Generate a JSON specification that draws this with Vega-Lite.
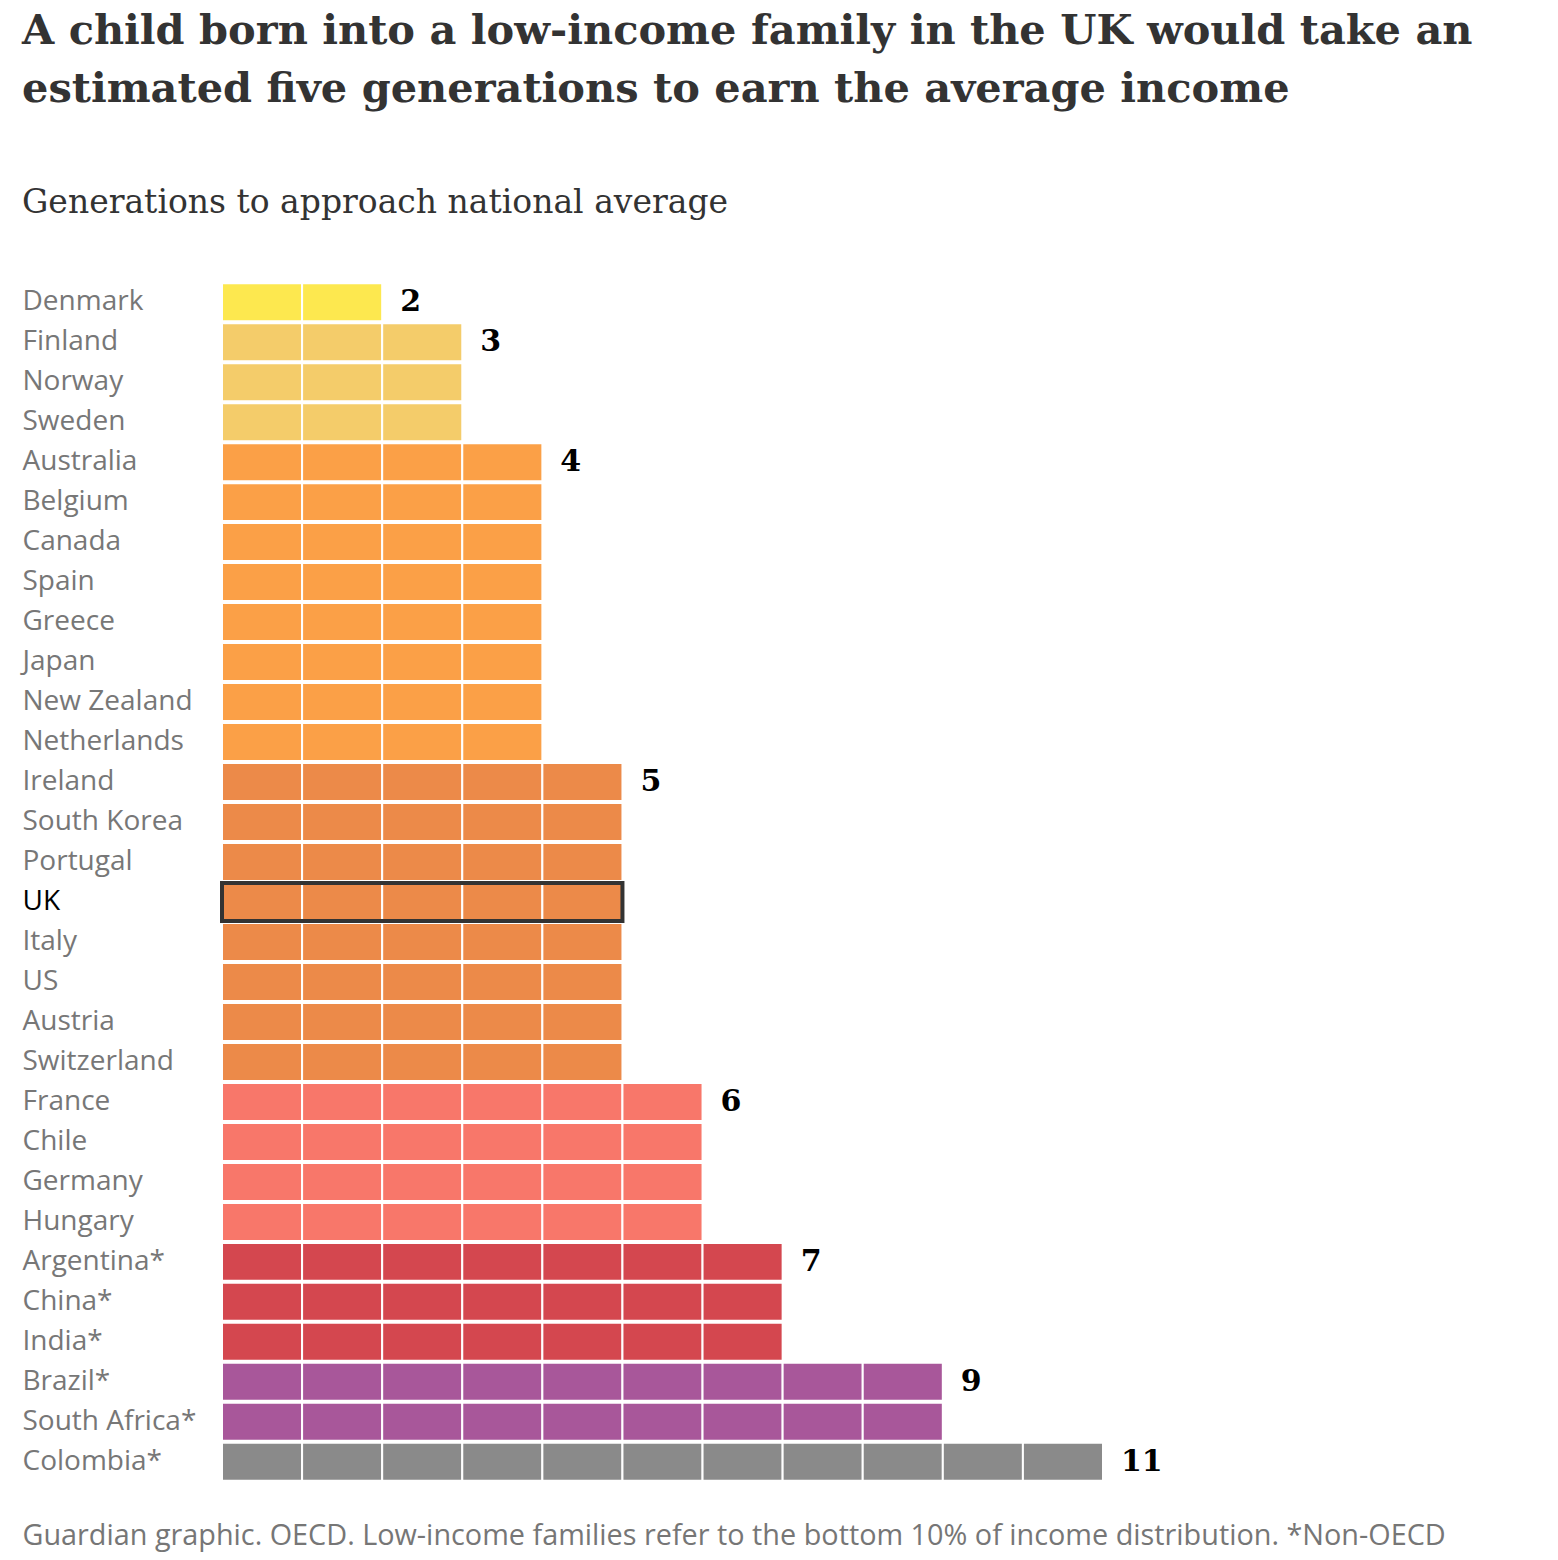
{
  "$schema": "https://vega.github.io/schema/vega-lite/v6.json",
  "width": 881,
  "height": 1200,
  "padding": {"left": 22, "top": 10, "right": 20, "bottom": 10},
  "background": "white",
  "title": {
    "text": ["A child born into a low-income family in the UK would take an", "estimated five generations to earn the average income"],
    "subtitle": "Generations to approach national average",
    "anchor": "start",
    "frame": "bounds",
    "font": "DejaVu Serif",
    "fontWeight": "bold",
    "fontSize": 41.5,
    "lineHeight": 58,
    "color": "#333333",
    "subtitleFont": "DejaVu Serif",
    "subtitleFontSize": 33,
    "subtitleColor": "#333333",
    "subtitlePadding": 77,
    "offset": 62
  },
  "datasets": {
    "cells": [
      {"c":"Denmark","g":2,"a":0,"b":1},{"c":"Denmark","g":2,"a":1,"b":2},
      {"c":"Finland","g":3,"a":0,"b":1},{"c":"Finland","g":3,"a":1,"b":2},{"c":"Finland","g":3,"a":2,"b":3},
      {"c":"Norway","g":3,"a":0,"b":1},{"c":"Norway","g":3,"a":1,"b":2},{"c":"Norway","g":3,"a":2,"b":3},
      {"c":"Sweden","g":3,"a":0,"b":1},{"c":"Sweden","g":3,"a":1,"b":2},{"c":"Sweden","g":3,"a":2,"b":3},
      {"c":"Australia","g":4,"a":0,"b":1},{"c":"Australia","g":4,"a":1,"b":2},{"c":"Australia","g":4,"a":2,"b":3},{"c":"Australia","g":4,"a":3,"b":4},
      {"c":"Belgium","g":4,"a":0,"b":1},{"c":"Belgium","g":4,"a":1,"b":2},{"c":"Belgium","g":4,"a":2,"b":3},{"c":"Belgium","g":4,"a":3,"b":4},
      {"c":"Canada","g":4,"a":0,"b":1},{"c":"Canada","g":4,"a":1,"b":2},{"c":"Canada","g":4,"a":2,"b":3},{"c":"Canada","g":4,"a":3,"b":4},
      {"c":"Spain","g":4,"a":0,"b":1},{"c":"Spain","g":4,"a":1,"b":2},{"c":"Spain","g":4,"a":2,"b":3},{"c":"Spain","g":4,"a":3,"b":4},
      {"c":"Greece","g":4,"a":0,"b":1},{"c":"Greece","g":4,"a":1,"b":2},{"c":"Greece","g":4,"a":2,"b":3},{"c":"Greece","g":4,"a":3,"b":4},
      {"c":"Japan","g":4,"a":0,"b":1},{"c":"Japan","g":4,"a":1,"b":2},{"c":"Japan","g":4,"a":2,"b":3},{"c":"Japan","g":4,"a":3,"b":4},
      {"c":"New Zealand","g":4,"a":0,"b":1},{"c":"New Zealand","g":4,"a":1,"b":2},{"c":"New Zealand","g":4,"a":2,"b":3},{"c":"New Zealand","g":4,"a":3,"b":4},
      {"c":"Netherlands","g":4,"a":0,"b":1},{"c":"Netherlands","g":4,"a":1,"b":2},{"c":"Netherlands","g":4,"a":2,"b":3},{"c":"Netherlands","g":4,"a":3,"b":4},
      {"c":"Ireland","g":5,"a":0,"b":1},{"c":"Ireland","g":5,"a":1,"b":2},{"c":"Ireland","g":5,"a":2,"b":3},{"c":"Ireland","g":5,"a":3,"b":4},{"c":"Ireland","g":5,"a":4,"b":5},
      {"c":"South Korea","g":5,"a":0,"b":1},{"c":"South Korea","g":5,"a":1,"b":2},{"c":"South Korea","g":5,"a":2,"b":3},{"c":"South Korea","g":5,"a":3,"b":4},{"c":"South Korea","g":5,"a":4,"b":5},
      {"c":"Portugal","g":5,"a":0,"b":1},{"c":"Portugal","g":5,"a":1,"b":2},{"c":"Portugal","g":5,"a":2,"b":3},{"c":"Portugal","g":5,"a":3,"b":4},{"c":"Portugal","g":5,"a":4,"b":5},
      {"c":"UK","g":5,"a":0,"b":1},{"c":"UK","g":5,"a":1,"b":2},{"c":"UK","g":5,"a":2,"b":3},{"c":"UK","g":5,"a":3,"b":4},{"c":"UK","g":5,"a":4,"b":5},
      {"c":"Italy","g":5,"a":0,"b":1},{"c":"Italy","g":5,"a":1,"b":2},{"c":"Italy","g":5,"a":2,"b":3},{"c":"Italy","g":5,"a":3,"b":4},{"c":"Italy","g":5,"a":4,"b":5},
      {"c":"US","g":5,"a":0,"b":1},{"c":"US","g":5,"a":1,"b":2},{"c":"US","g":5,"a":2,"b":3},{"c":"US","g":5,"a":3,"b":4},{"c":"US","g":5,"a":4,"b":5},
      {"c":"Austria","g":5,"a":0,"b":1},{"c":"Austria","g":5,"a":1,"b":2},{"c":"Austria","g":5,"a":2,"b":3},{"c":"Austria","g":5,"a":3,"b":4},{"c":"Austria","g":5,"a":4,"b":5},
      {"c":"Switzerland","g":5,"a":0,"b":1},{"c":"Switzerland","g":5,"a":1,"b":2},{"c":"Switzerland","g":5,"a":2,"b":3},{"c":"Switzerland","g":5,"a":3,"b":4},{"c":"Switzerland","g":5,"a":4,"b":5},
      {"c":"France","g":6,"a":0,"b":1},{"c":"France","g":6,"a":1,"b":2},{"c":"France","g":6,"a":2,"b":3},{"c":"France","g":6,"a":3,"b":4},{"c":"France","g":6,"a":4,"b":5},{"c":"France","g":6,"a":5,"b":6},
      {"c":"Chile","g":6,"a":0,"b":1},{"c":"Chile","g":6,"a":1,"b":2},{"c":"Chile","g":6,"a":2,"b":3},{"c":"Chile","g":6,"a":3,"b":4},{"c":"Chile","g":6,"a":4,"b":5},{"c":"Chile","g":6,"a":5,"b":6},
      {"c":"Germany","g":6,"a":0,"b":1},{"c":"Germany","g":6,"a":1,"b":2},{"c":"Germany","g":6,"a":2,"b":3},{"c":"Germany","g":6,"a":3,"b":4},{"c":"Germany","g":6,"a":4,"b":5},{"c":"Germany","g":6,"a":5,"b":6},
      {"c":"Hungary","g":6,"a":0,"b":1},{"c":"Hungary","g":6,"a":1,"b":2},{"c":"Hungary","g":6,"a":2,"b":3},{"c":"Hungary","g":6,"a":3,"b":4},{"c":"Hungary","g":6,"a":4,"b":5},{"c":"Hungary","g":6,"a":5,"b":6},
      {"c":"Argentina*","g":7,"a":0,"b":1},{"c":"Argentina*","g":7,"a":1,"b":2},{"c":"Argentina*","g":7,"a":2,"b":3},{"c":"Argentina*","g":7,"a":3,"b":4},{"c":"Argentina*","g":7,"a":4,"b":5},{"c":"Argentina*","g":7,"a":5,"b":6},{"c":"Argentina*","g":7,"a":6,"b":7},
      {"c":"China*","g":7,"a":0,"b":1},{"c":"China*","g":7,"a":1,"b":2},{"c":"China*","g":7,"a":2,"b":3},{"c":"China*","g":7,"a":3,"b":4},{"c":"China*","g":7,"a":4,"b":5},{"c":"China*","g":7,"a":5,"b":6},{"c":"China*","g":7,"a":6,"b":7},
      {"c":"India*","g":7,"a":0,"b":1},{"c":"India*","g":7,"a":1,"b":2},{"c":"India*","g":7,"a":2,"b":3},{"c":"India*","g":7,"a":3,"b":4},{"c":"India*","g":7,"a":4,"b":5},{"c":"India*","g":7,"a":5,"b":6},{"c":"India*","g":7,"a":6,"b":7},
      {"c":"Brazil*","g":9,"a":0,"b":1},{"c":"Brazil*","g":9,"a":1,"b":2},{"c":"Brazil*","g":9,"a":2,"b":3},{"c":"Brazil*","g":9,"a":3,"b":4},{"c":"Brazil*","g":9,"a":4,"b":5},{"c":"Brazil*","g":9,"a":5,"b":6},{"c":"Brazil*","g":9,"a":6,"b":7},{"c":"Brazil*","g":9,"a":7,"b":8},{"c":"Brazil*","g":9,"a":8,"b":9},
      {"c":"South Africa*","g":9,"a":0,"b":1},{"c":"South Africa*","g":9,"a":1,"b":2},{"c":"South Africa*","g":9,"a":2,"b":3},{"c":"South Africa*","g":9,"a":3,"b":4},{"c":"South Africa*","g":9,"a":4,"b":5},{"c":"South Africa*","g":9,"a":5,"b":6},{"c":"South Africa*","g":9,"a":6,"b":7},{"c":"South Africa*","g":9,"a":7,"b":8},{"c":"South Africa*","g":9,"a":8,"b":9},
      {"c":"Colombia*","g":11,"a":0,"b":1},{"c":"Colombia*","g":11,"a":1,"b":2},{"c":"Colombia*","g":11,"a":2,"b":3},{"c":"Colombia*","g":11,"a":3,"b":4},{"c":"Colombia*","g":11,"a":4,"b":5},{"c":"Colombia*","g":11,"a":5,"b":6},{"c":"Colombia*","g":11,"a":6,"b":7},{"c":"Colombia*","g":11,"a":7,"b":8},{"c":"Colombia*","g":11,"a":8,"b":9},{"c":"Colombia*","g":11,"a":9,"b":10},{"c":"Colombia*","g":11,"a":10,"b":11}
    ],
    "highlight": [{"c":"UK","a":0,"b":5}],
    "labels": [
      {"c":"Denmark","a":2},{"c":"Finland","a":3},{"c":"Australia","a":4},{"c":"Ireland","a":5},
      {"c":"France","a":6},{"c":"Argentina*","a":7},{"c":"Brazil*","a":9},{"c":"Colombia*","a":11}
    ]
  },
  "layer": [
    {
      "data": {"name": "cells"},
      "mark": {"type": "bar", "stroke": "white", "strokeWidth": 2},
      "encoding": {
        "y": {
          "field": "c",
          "type": "nominal",
          "sort": null,
          "scale": {
            "domain": ["Denmark","Finland","Norway","Sweden","Australia","Belgium","Canada","Spain","Greece","Japan","New Zealand","Netherlands","Ireland","South Korea","Portugal","UK","Italy","US","Austria","Switzerland","France","Chile","Germany","Hungary","Argentina*","China*","India*","Brazil*","South Africa*","Colombia*"],
            "paddingInner": 0.05,
            "paddingOuter": 0.03
          },
          "axis": {
            "title": null,
            "domain": false,
            "ticks": false,
            "tickSize": 0,
            "labelPadding": 200,
            "labelAlign": "left",
            "labelFont": "Open Sans",
            "labelFontSize": 28,
            "labelColor": {"condition": {"test": "datum.value === 'UK'", "value": "#000000"}, "value": "#777777"}
          }
        },
        "x": {
          "field": "a",
          "type": "quantitative",
          "scale": {"domain": [0, 11], "nice": false, "zero": true},
          "axis": {
            "labels": false,
            "ticks": false,
            "domain": false,
            "grid": false,
            "title": "Guardian graphic. OECD. Low-income families refer to the bottom 10% of income distribution. *Non-OECD",
            "titleFont": "Open Sans",
            "titleFontSize": 28.8,
            "titleFontWeight": "normal",
            "titleColor": "#767676",
            "titleAnchor": "start",
            "titleAlign": "left",
            "titleBaseline": "alphabetic",
            "titleX": -200,
            "titleY": 62
          }
        },
        "x2": {"field": "b"},
        "color": {
          "field": "g",
          "type": "ordinal",
          "legend": null,
          "scale": {
            "domain": [2, 3, 4, 5, 6, 7, 9, 11],
            "range": ["#fde84f", "#f4cc6a", "#fba047", "#ec8a49", "#f8776a", "#d4474f", "#a8579a", "#8a8a8a"]
          }
        }
      }
    },
    {
      "data": {"name": "highlight"},
      "mark": {"type": "bar", "filled": false, "stroke": "#333333", "strokeWidth": 4},
      "encoding": {
        "y": {"field": "c", "type": "nominal", "sort": null},
        "x": {"field": "a", "type": "quantitative"},
        "x2": {"field": "b"}
      }
    },
    {
      "data": {"name": "labels"},
      "mark": {"type": "text", "align": "left", "baseline": "middle", "dx": 18, "font": "DejaVu Serif", "fontWeight": "bold", "fontSize": 30, "color": "#000000"},
      "encoding": {
        "y": {"field": "c", "type": "nominal", "sort": null},
        "x": {"field": "a", "type": "quantitative"},
        "text": {"field": "a", "type": "quantitative"}
      }
    }
  ],
  "config": {"view": {"stroke": null}}
}
